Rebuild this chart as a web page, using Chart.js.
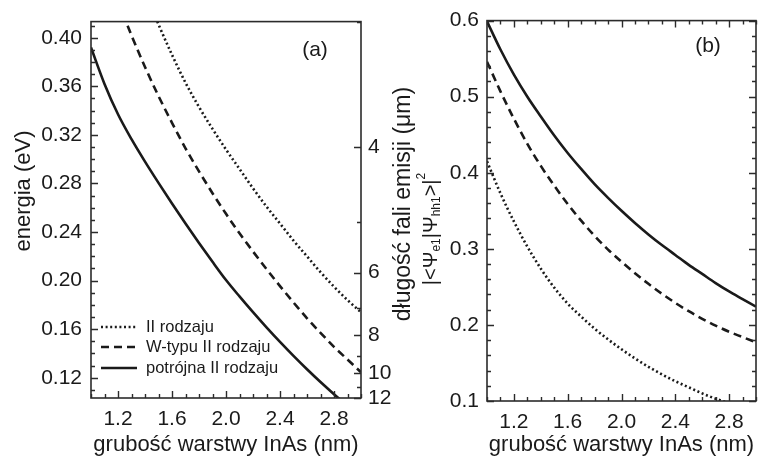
<!DOCTYPE html>
<html>
<head>
<meta charset="utf-8">
<script src="https://cdn.jsdelivr.net/npm/chart.js@4.4.0/dist/chart.umd.min.js"></script>
<style>
  html, body { margin: 0; padding: 0; background: #fff; }
  #wrap { position: relative; width: 758px; height: 459px; overflow: hidden; }
  #ca { position: absolute; left: 0; top: 0; }
  #cb { position: absolute; left: 400px; top: 0; }
</style>
</head>
<body>
<div id="wrap">
  <canvas id="ca" width="430" height="459"></canvas>
  <canvas id="cb" width="358" height="459"></canvas>
</div>
<script>
// InAs layer thickness (nm), shared by every curve
const thicknessNm = [1.0, 1.1, 1.2, 1.3, 1.4, 1.5, 1.6, 1.7, 1.8, 1.9, 2.0,
                     2.1, 2.2, 2.3, 2.4, 2.5, 2.6, 2.7, 2.8, 2.9, 3.0];

// panel (a): transition energy (eV)
const energyTypeII = [null, null, null, null, 0.438, 0.411, 0.386, 0.363, 0.343, 0.325, 0.308,
                      0.292, 0.276, 0.261, 0.247, 0.233, 0.220, 0.207, 0.195, 0.184, 0.174];
const energyWType  = [null, null, 0.430, 0.402, 0.376, 0.352, 0.330, 0.309, 0.290, 0.272, 0.255,
                      0.239, 0.224, 0.2095, 0.1955, 0.182, 0.169, 0.157, 0.1455, 0.135, 0.1245];
const energyTriple = [0.392, 0.362, 0.337, 0.3165, 0.298, 0.2805, 0.2635, 0.247, 0.231, 0.2155, 0.2005,
                      0.187, 0.174, 0.1615, 0.1495, 0.138, 0.127, 0.1165, 0.1065, 0.097, 0.088];

// panel (b): overlap |<psi_e1|psi_hh1>|^2
const overlapTypeII = [0.415, 0.373, 0.336, 0.303, 0.274, 0.249, 0.228, 0.211, 0.195, 0.181, 0.168,
                       0.156, 0.145, 0.135, 0.126, 0.118, 0.110, 0.103, 0.097, 0.091, 0.085];
const overlapWType  = [0.546, 0.507, 0.471, 0.438, 0.409, 0.383, 0.359, 0.337, 0.317, 0.299, 0.283,
                       0.268, 0.254, 0.241, 0.229, 0.218, 0.208, 0.199, 0.191, 0.184, 0.177];
const overlapTriple = [0.599, 0.562, 0.529, 0.500, 0.474, 0.449, 0.426, 0.405, 0.385, 0.367, 0.350,
                       0.334, 0.319, 0.305, 0.292, 0.279, 0.267, 0.255, 0.244, 0.234, 0.224];

const seriesLabels = ['II rodzaju', 'W-typu II rodzaju', 'potrójna II rodzaju'];

// tick labels
const xTickLabels = [1.2, 1.6, 2.0, 2.4, 2.8];
const energyTickLabels = [0.12, 0.16, 0.20, 0.24, 0.28, 0.32, 0.36, 0.40];
const wavelengthTickLabels = [4, 6, 8, 10, 12];
const wavelengthMinor = [3, 5, 7, 9, 11];
const overlapTickLabels = [0.1, 0.2, 0.3, 0.4, 0.5, 0.6];

const HC = 1.24; // eV*um, energy <-> wavelength

const FONT = "'Liberation Sans', Arial, sans-serif";
const INK = '#1a1a1a';

function pairs(xs, ys) {
  const out = [];
  xs.forEach((x, i) => { if (ys[i] !== null) out.push({ x: x, y: ys[i] }); });
  return out;
}

function steps(from, to, step, skip) {
  const out = [];
  for (let v = from; v <= to + 1e-9; v += step) {
    const r = Math.round(v * 1000) / 1000;
    if (!skip.some(s => Math.abs(s - r) < 1e-6)) out.push(r);
  }
  return out;
}

const lineStyles = [
  { borderDash: [2, 2.6], borderWidth: 2.6 },
  { borderDash: [8, 5], borderWidth: 2.6 },
  { borderDash: [], borderWidth: 2.6 }
];

function makeDatasets(seriesList) {
  return seriesList.map((vals, i) => ({
    label: seriesLabels[i],
    data: pairs(thicknessNm, vals),
    borderColor: INK,
    borderDash: lineStyles[i].borderDash,
    borderWidth: lineStyles[i].borderWidth,
    borderCapStyle: 'butt',
    pointRadius: 0,
    fill: false,
    cubicInterpolationMode: 'monotone'
  }));
}

// frame, inward tick marks, in-plot legend, panel label and rotated titles
// (config kept in a closure so chart.js doesn't resolve the functions in it)
function axisDecor(cfg) {
  return {
    id: 'axisDecor',
    afterDraw(chart) {
      const { ctx, chartArea: a } = chart;
      ctx.save();
      ctx.strokeStyle = '#2b2b2b';
      ctx.lineWidth = 1.6;
      ctx.setLineDash([]);
      ctx.strokeRect(a.left, a.top, a.right - a.left, a.bottom - a.top);

      ctx.lineWidth = 1.4;
      ctx.beginPath();
      cfg.marks.forEach(m => {
        const s = chart.scales[m.scale];
        m.values.forEach(v => {
          const val = m.toValue ? m.toValue(v) : v;
          const p = Math.round(s.getPixelForValue(val)) + 0.5;
          if (m.side === 'bottom') { ctx.moveTo(p, a.bottom); ctx.lineTo(p, a.bottom - m.len); }
          if (m.side === 'top') { ctx.moveTo(p, a.top); ctx.lineTo(p, a.top + m.len); }
          if (m.side === 'left') { ctx.moveTo(a.left, p); ctx.lineTo(a.left + m.len, p); }
          if (m.side === 'right') { ctx.moveTo(a.right, p); ctx.lineTo(a.right - m.len, p); }
        });
      });
      ctx.stroke();

      ctx.fillStyle = INK;
      if (cfg.tag) {
        ctx.font = '21px ' + FONT;
        ctx.textAlign = 'center';
        ctx.textBaseline = 'middle';
        ctx.fillText(cfg.tag.text, a.right - cfg.tag.dx, a.top + cfg.tag.dy);
      }

      if (cfg.legend) {
        const lg = cfg.legend;
        ctx.font = '16.5px ' + FONT;
        ctx.textAlign = 'left';
        ctx.textBaseline = 'middle';
        chart.data.datasets.forEach((ds, i) => {
          const y = a.bottom - lg.rows[i];
          ctx.strokeStyle = INK;
          ctx.lineWidth = ds.borderWidth;
          ctx.setLineDash(ds.borderDash);
          ctx.beginPath();
          ctx.moveTo(a.left + lg.x0, y);
          ctx.lineTo(a.left + lg.x1, y);
          ctx.stroke();
          ctx.setLineDash([]);
          ctx.fillText(ds.label, a.left + lg.tx, y);
        });
      }

      (cfg.titles || []).forEach(t => {
        ctx.save();
        ctx.translate(t.x, t.y);
        ctx.rotate(-Math.PI / 2);
        ctx.textAlign = 'left';
        ctx.textBaseline = 'middle';
        let w = 0;
        t.parts.forEach(p => { ctx.font = p.size + 'px ' + FONT; w += ctx.measureText(p.text).width; });
        let x = -w / 2;
        t.parts.forEach(p => {
          ctx.font = p.size + 'px ' + FONT;
          ctx.fillText(p.text, x, p.dy || 0);
          x += ctx.measureText(p.text).width;
        });
        ctx.restore();
      });
      ctx.restore();
    }
  };
}

const tickFont = { family: FONT, size: 21 };
const titleFont = { family: FONT, size: 22 };

const xMinor = steps(1.0, 3.0, 0.1, xTickLabels);
const xScale = (height) => ({
  type: 'linear',
  min: 1.0,
  max: 3.0,
  afterBuildTicks: s => { s.ticks = xTickLabels.map(v => ({ value: v })); },
  afterFit: s => { s.height = height; },
  grid: { display: false, drawTicks: false },
  border: { display: false },
  ticks: { callback: v => v.toFixed(1), padding: 9, maxRotation: 0, autoSkip: false, color: INK, font: tickFont },
  title: { display: true, text: 'grubość warstwy InAs (nm)', color: INK, font: titleFont, padding: { top: 0, bottom: 1 } }
});

// ---------- panel (a)
const eMin = HC / 12, eMax = HC / 3;
new Chart(document.getElementById('ca'), {
  type: 'line',
  data: { datasets: makeDatasets([energyTypeII, energyWType, energyTriple]) },
  options: {
    responsive: false,
    animation: false,
    layout: { padding: { top: 16, left: 0, right: 0, bottom: 0 } },
    plugins: { legend: { display: false }, tooltip: { enabled: false } },
    scales: {
      x: xScale(61),
      y: {
        type: 'linear',
        min: eMin,
        max: eMax,
        afterBuildTicks: s => { s.ticks = energyTickLabels.map(v => ({ value: v })); },
        afterFit: s => { s.width = 91; },
        grid: { display: false, drawTicks: false },
        border: { display: false },
        ticks: { callback: v => v.toFixed(2), padding: 9, autoSkip: false, color: INK, font: tickFont }
      },
      y2: {
        type: 'linear',
        position: 'right',
        min: eMin,
        max: eMax,
        afterBuildTicks: s => { s.ticks = wavelengthTickLabels.map(l => ({ value: HC / l })); },
        afterFit: s => { s.width = 430 - 361; },
        grid: { display: false, drawTicks: false },
        border: { display: false },
        ticks: { callback: v => String(Math.round(HC / v)), padding: 7, autoSkip: false, color: INK, font: tickFont }
      }
    }
  },
  plugins: [axisDecor({
    marks: [
      { scale: 'x', side: 'bottom', values: xTickLabels, len: 7 },
      { scale: 'x', side: 'bottom', values: xMinor, len: 4 },
      { scale: 'y', side: 'left', values: energyTickLabels, len: 7 },
      { scale: 'y', side: 'left', values: steps(0.11, 0.41, 0.01, energyTickLabels), len: 4 },
      { scale: 'y2', side: 'right', values: wavelengthTickLabels, len: 7, toValue: l => HC / l },
      { scale: 'y2', side: 'right', values: wavelengthMinor, len: 4, toValue: l => HC / l }
    ],
    tag: { text: '(a)', dx: 46, dy: 29 },
    legend: { rows: [71, 51, 30], x0: 10, x1: 46, tx: 55 },
    titles: [
      { x: 24, y: 191, parts: [{ text: 'energia (eV)', size: 22 }] },
      { x: 404, y: 204, parts: [{ text: 'długość fali emisji (μm)', size: 23 }] }
    ]
  })]
});

// ---------- panel (b)
const yMinorB = steps(0.12, 0.58, 0.02, overlapTickLabels);
new Chart(document.getElementById('cb'), {
  type: 'line',
  data: { datasets: makeDatasets([overlapTypeII, overlapWType, overlapTriple]) },
  options: {
    responsive: false,
    animation: false,
    layout: { padding: { top: 19, left: 0, right: 2, bottom: 0 } },
    plugins: { legend: { display: false }, tooltip: { enabled: false } },
    scales: {
      x: xScale(58),
      y: {
        type: 'linear',
        min: 0.1,
        max: 0.6,
        afterBuildTicks: s => { s.ticks = overlapTickLabels.map(v => ({ value: v })); },
        afterFit: s => { s.width = 87; },
        grid: { display: false, drawTicks: false },
        border: { display: false },
        ticks: { callback: v => v.toFixed(1), padding: 8, autoSkip: false, color: INK, font: tickFont }
      }
    }
  },
  plugins: [axisDecor({
    marks: [
      { scale: 'x', side: 'bottom', values: xTickLabels, len: 7 },
      { scale: 'x', side: 'bottom', values: xMinor, len: 4 },
      { scale: 'x', side: 'top', values: xTickLabels, len: 7 },
      { scale: 'x', side: 'top', values: xMinor, len: 4 },
      { scale: 'y', side: 'left', values: overlapTickLabels, len: 7 },
      { scale: 'y', side: 'left', values: yMinorB, len: 4 },
      { scale: 'y', side: 'right', values: overlapTickLabels, len: 7 },
      { scale: 'y', side: 'right', values: yMinorB, len: 4 }
    ],
    tag: { text: '(b)', dx: 48, dy: 26 },
    titles: [{
      x: 31,
      y: 229,
      parts: [
        { text: '|<Ψ', size: 20 },
        { text: 'e1', size: 12, dy: 6 },
        { text: '|Ψ', size: 20 },
        { text: 'hh1', size: 12, dy: 6 },
        { text: '>|', size: 20 },
        { text: '2', size: 12, dy: -9 }
      ]
    }]
  })]
});
</script>
</body>
</html>
